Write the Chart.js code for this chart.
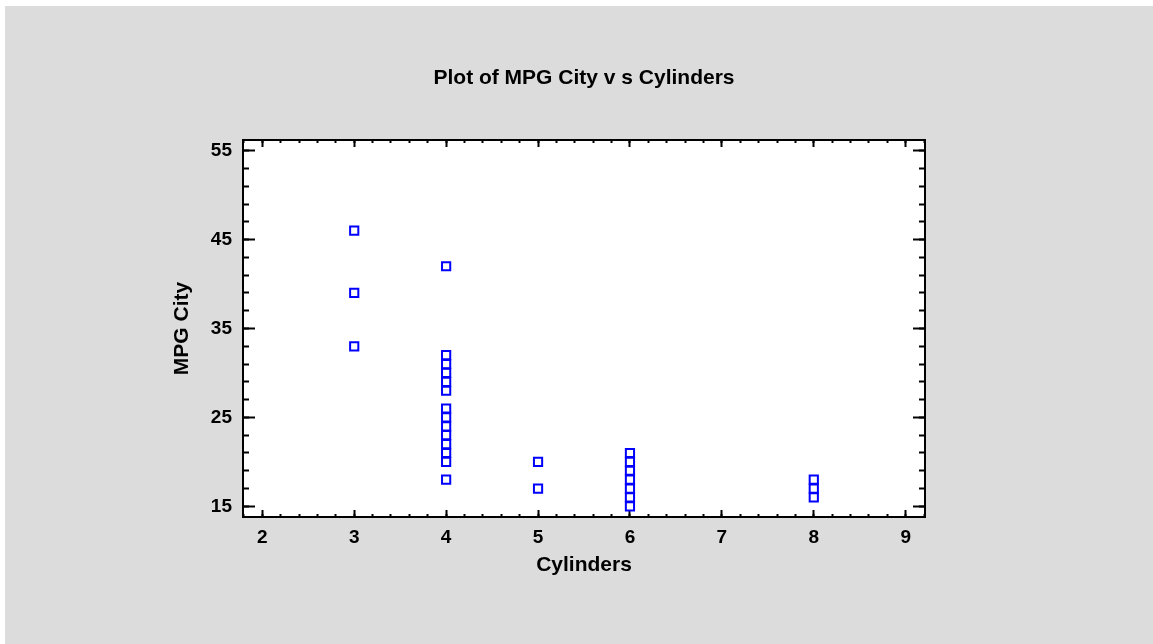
<!DOCTYPE html>
<html>
<head>
<meta charset="utf-8">
<title>Plot of MPG City vs Cylinders</title>
<script src="https://cdn.jsdelivr.net/npm/chart.js@4.4.1/dist/chart.umd.min.js"></script>
<style>
  html, body { margin: 0; padding: 0; background: #ffffff; }
  #frame { position: absolute; left: 5px; top: 6px; width: 1148px; height: 638px; background: #dcdcdc; }
  #plot { display: block; }
</style>
</head>
<body>
<div id="frame"><canvas id="plot" width="1148" height="638"></canvas></div>
<script>
// one entry per plotted car: cylinder count and city mileage
var cylinders = [3, 3, 3,
  4, 4, 4, 4, 4, 4, 4, 4, 4, 4, 4, 4, 4, 4,
  5, 5,
  6, 6, 6, 6, 6, 6, 6,
  8, 8, 8];
var mpgCity = [46, 39, 33,
  42, 32, 31, 30, 29, 28, 26, 25, 24, 23, 22, 21, 20, 18,
  20, 17,
  21, 20, 19, 18, 17, 16, 15,
  18, 17, 16];

var xTicks = [2, 3, 4, 5, 6, 7, 8, 9];
var yTicks = [15, 25, 35, 45, 55];
var xRange = [1.79, 9.21];
var yRange = [13.8, 56.2];

var FONT = '"Liberation Sans", Arial, sans-serif';

// split each major interval into five, kept inside the axis range
function minorTicks(major, range) {
  var step = (major[1] - major[0]) / 5;
  var out = [];
  for (var v = major[0]; v >= range[0] - 1e-9; v -= step) out.unshift(v);
  for (v = major[0] + step; v <= range[1] + 1e-9; v += step) out.push(v);
  return out;
}

function setTicks(values) {
  return function (s) {
    s.ticks = values.map(function (v) { return { value: v }; });
  };
}

// unlabeled axis drawn on an edge of the plot, ticks pointing inward
function edge(axis, position, range, values, tickLen, weight) {
  return {
    type: 'linear', axis: axis, position: position, bounds: 'data',
    min: range[0], max: range[1], weight: weight,
    afterBuildTicks: setTicks(values),
    afterFit: function (s) { if (axis === 'x') s.height = 0; else s.width = 0; },
    border: { display: true, color: '#000000', width: 2 },
    grid: { drawOnChartArea: false, drawTicks: true, tickLength: -tickLen, tickWidth: 2, tickColor: '#000000' },
    ticks: { display: false }
  };
}

// white plotting field under the axes and points
var plotField = {
  id: 'plotField',
  beforeDraw: function (chart) {
    var a = chart.chartArea;
    var ctx = chart.ctx;
    ctx.save();
    ctx.fillStyle = '#ffffff';
    ctx.fillRect(a.left, a.top, a.right - a.left, a.bottom - a.top);
    ctx.restore();
  }
};

var points = cylinders.map(function (c, i) { return { x: c, y: mpgCity[i] }; });

new Chart(document.getElementById('plot'), {
  type: 'scatter',
  data: {
    datasets: [{
      data: points,
      pointStyle: 'rect',
      pointRadius: 5.8,
      pointBorderWidth: 2,
      pointBorderColor: '#0000ff',
      pointBackgroundColor: 'rgba(0,0,0,0)'
    }]
  },
  plugins: [plotField],
  options: {
    responsive: false,
    animation: false,
    events: [],
    layout: { padding: { left: 0, right: 228, top: 0, bottom: 0 } },
    plugins: {
      legend: { display: false },
      tooltip: { enabled: false },
      title: {
        display: true,
        fullSize: false,
        text: 'Plot of MPG City v s Cylinders',
        color: '#000000',
        font: { family: FONT, size: 21, weight: 'bold' },
        padding: { top: 60, bottom: 48.8 }
      }
    },
    scales: {
      x: {
        type: 'linear', position: 'bottom', bounds: 'data',
        min: xRange[0], max: xRange[1], weight: 1,
        afterBuildTicks: setTicks(xTicks),
        afterFit: function (s) { s.height = 127; },
        border: { display: true, color: '#000000', width: 2 },
        grid: { drawOnChartArea: false, tickLength: -7, tickWidth: 2, tickColor: '#000000' },
        ticks: {
          color: '#000000', padding: 16, autoSkip: false, maxRotation: 0,
          font: { family: FONT, size: 19, weight: 'bold' }
        },
        title: {
          display: true, text: 'Cylinders', color: '#000000',
          font: { family: FONT, size: 21, weight: 'bold' },
          padding: { top: 0, bottom: 66 }
        }
      },
      y: {
        type: 'linear', position: 'left', bounds: 'data',
        min: yRange[0], max: yRange[1], weight: 1,
        afterBuildTicks: setTicks(yTicks),
        afterFit: function (s) { s.width = 238; },
        border: { display: true, color: '#000000', width: 2 },
        grid: { drawOnChartArea: false, tickLength: -12, tickWidth: 2, tickColor: '#000000' },
        ticks: {
          color: '#000000', padding: 23, autoSkip: false,
          font: { family: FONT, size: 19, weight: 'bold' }
        },
        title: {
          display: true, text: 'MPG City', color: '#000000',
          font: { family: FONT, size: 21, weight: 'bold' },
          padding: { top: 165, bottom: 0 }
        }
      },
      xMinor: edge('x', 'bottom', xRange, minorTicks(xTicks, xRange), 3, 0),
      xTop: edge('x', 'top', xRange, xTicks, 7, 1),
      xTopMinor: edge('x', 'top', xRange, minorTicks(xTicks, xRange), 3, 0),
      yMinor: edge('y', 'left', yRange, minorTicks(yTicks, yRange), 6, 0),
      yRight: edge('y', 'right', yRange, yTicks, 12, 1),
      yRightMinor: edge('y', 'right', yRange, minorTicks(yTicks, yRange), 6, 0)
    }
  }
});
</script>
</body>
</html>
